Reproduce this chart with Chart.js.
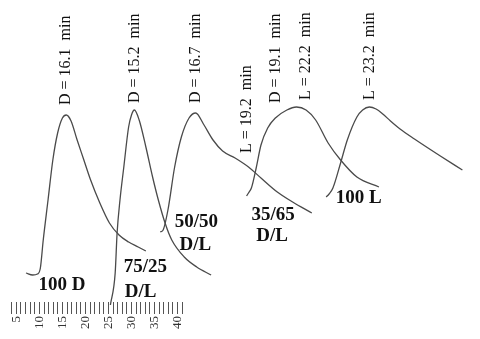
<!DOCTYPE html>
<html>
<head>
<meta charset="utf-8">
<script src="https://cdn.jsdelivr.net/npm/chart.js@4"></script>
<style>
  html, body { margin: 0; padding: 0; background: #fff; }
</style>
</head>
<body>
<canvas id="chart" width="480" height="339"></canvas>
<script>
// traces (picture units, y grows downward)
const d100X = [25, 32, 37, 40, 43, 48, 53, 58, 63, 67, 72, 78, 85, 92, 102, 112, 122, 132, 142, 150];
const d100Y = [273, 275, 274, 268, 240, 200, 160, 133, 118, 115, 121, 139, 159, 179, 203, 223, 235, 242, 247, 251];

const d75X = [113, 118, 120, 123, 127, 132, 135, 138, 143, 150, 157, 163, 170, 177, 190, 203, 218];
const d75Y = [305, 273, 233, 200, 167, 127, 115, 110, 120, 147, 177, 200, 223, 240, 257, 267, 275];

const d50X = [165, 168, 173, 180, 187, 195, 202, 210, 220, 230, 243, 257, 270, 287, 303, 323];
const d50Y = [232, 230, 210, 167, 137, 118, 113, 124, 140, 151, 158, 167, 178, 192, 202, 213];

const d35X = [255, 257, 260, 265, 270, 277, 285, 297, 307, 317, 327, 340, 353, 370, 393];
const d35Y = [196, 193, 188, 168, 145, 128, 118, 110, 107, 110, 120, 143, 160, 177, 187];

const l100X = [338, 341, 345, 353, 360, 370, 376, 383, 390, 397, 405, 415, 430, 457, 480];
const l100Y = [197, 194, 188, 163, 140, 117, 110, 107, 109, 114, 121, 129, 139, 156, 170];

const peakLabels = ['D = 16.1  min', 'D = 15.2  min', 'D = 16.7  min', 'L = 19.2  min',
                    'D = 19.1  min', 'L = 22.2  min', 'L = 23.2  min'];
const sampleLabels = ['100 D', '75/25', 'D/L', '50/50', 'D/L', '35/65', 'D/L', '100 L'];

// time ruler under the traces, minutes
const rulerLabels = [5, 10, 15, 20, 25, 30, 35, 40];
const rulerFirst = 4;
const rulerLast = 41;

const toPoints = (xs, ys) => xs.map((x, i) => ({ x: x, y: ys[i] }));

const traces = [
  toPoints(d100X, d100Y),
  toPoints(d75X, d75Y),
  toPoints(d50X, d50Y),
  toPoints(d35X, d35Y),
  toPoints(l100X, l100Y)
];

// where the texts sit on the picture
const peakPos = [[67, 105], [138, 103], [202, 103], [255, 153], [285, 103], [317, 100], [383, 100]];
const samplePos = [[38, 290], [127, 272], [128, 297], [180, 227], [185, 250], [260, 220], [265, 241], [348, 203]];

const textPlugin = {
  id: 'texts',
  afterDatasetsDraw(chart) {
    const ctx = chart.ctx;
    const sx = chart.scales.x;
    const sy = chart.scales.y;
    ctx.save();
    ctx.fillStyle = '#111';
    ctx.font = '16px "Liberation Serif"';
    ctx.textAlign = 'left';
    ctx.textBaseline = 'middle';
    peakLabels.forEach((t, i) => {
      ctx.save();
      ctx.translate(sx.getPixelForValue(peakPos[i][0]), sy.getPixelForValue(peakPos[i][1]));
      ctx.rotate(-Math.PI / 2);
      ctx.fillText(t, 0, 0);
      ctx.restore();
    });
    ctx.font = 'bold 19px "Liberation Serif"';
    ctx.textBaseline = 'alphabetic';
    sampleLabels.forEach((t, i) => {
      ctx.fillText(t, sx.getPixelForValue(samplePos[i][0]), sy.getPixelForValue(samplePos[i][1]));
    });
    ctx.restore();
  }
};

new Chart(document.getElementById('chart'), {
  type: 'line',
  data: {
    datasets: traces.map(pts => ({
      data: pts,
      xAxisID: 'x',
      yAxisID: 'y',
      borderColor: '#4a4a4a',
      borderWidth: 1.3,
      pointRadius: 0,
      cubicInterpolationMode: 'monotone',
      fill: false,
      clip: false
    }))
  },
  options: {
    responsive: false,
    animation: false,
    layout: { padding: 0 },
    plugins: { legend: { display: false }, tooltip: { enabled: false } },
    scales: {
      x: { type: 'linear', min: 0, max: 480, display: false },
      y: { type: 'linear', min: 0, max: 302, reverse: true, display: false },
      ruler: {
        type: 'linear',
        position: 'bottom',
        min: 1.875,
        max: 101.9,
        afterFit: s => { s.height = 37; },
        border: { display: false },
        grid: {
          drawOnChartArea: false,
          drawTicks: true,
          tickLength: 12,
          lineWidth: 1,
          color: c => (c.tick && c.tick.value >= rulerFirst && c.tick.value <= rulerLast) ? '#555' : 'rgba(0,0,0,0)'
        },
        ticks: {
          stepSize: 1,
          autoSkip: false,
          minRotation: 90,
          maxRotation: 90,
          padding: 2,
          color: '#333',
          font: { family: '"Liberation Serif"', size: 13 },
          callback: v => rulerLabels.includes(v) ? String(v) : ''
        }
      }
    }
  },
  plugins: [textPlugin]
});
</script>
</body>
</html>
